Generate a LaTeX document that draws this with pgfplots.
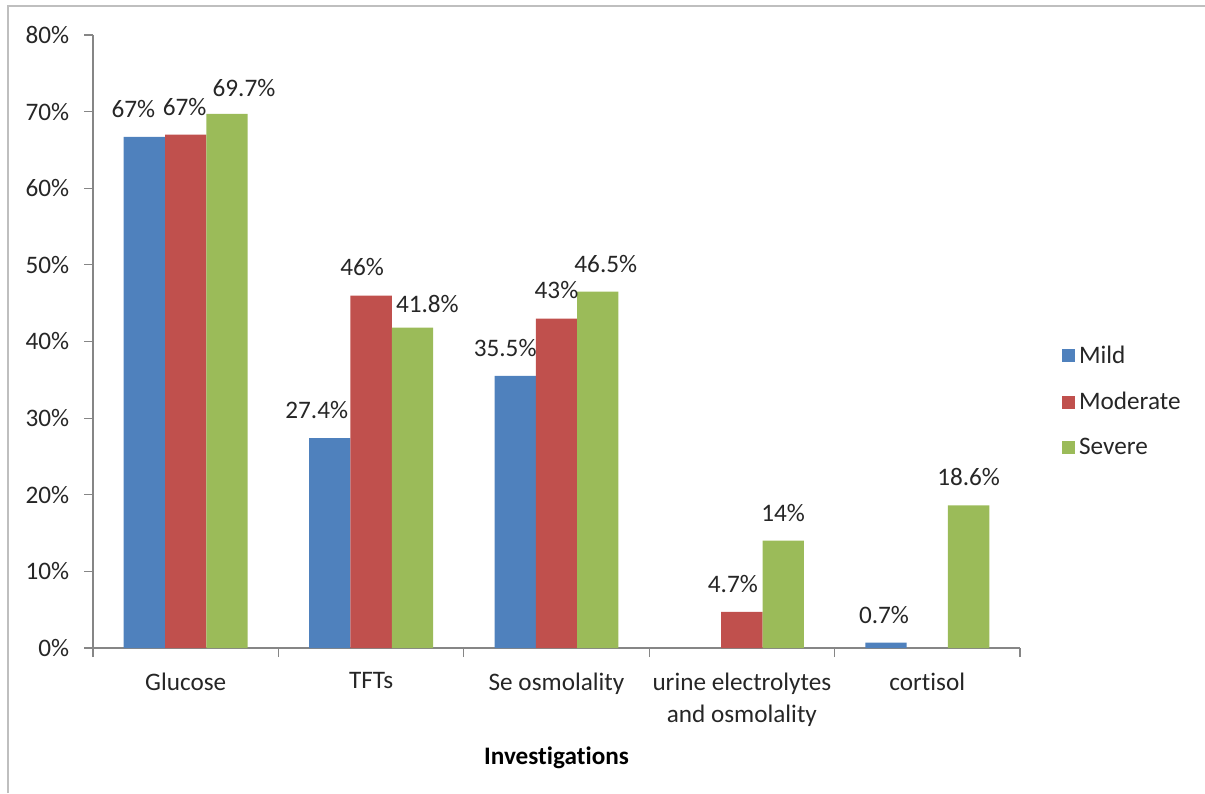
\documentclass[border=0pt]{standalone}
\usepackage{pgfplots}
\pgfplotsset{compat=1.18}
\usepackage{pgfplotstable}
\usepackage{fontspec}
\setmainfont{Carlito}[Ligatures=NoCommon]
\definecolor{mild}{HTML}{4F81BD}
\definecolor{moderate}{HTML}{C0504D}
\definecolor{severe}{HTML}{9BBB59}
\definecolor{axisgray}{HTML}{868686}
\newcommand{\fs}{\fontsize{12.6pt}{15pt}\selectfont}

\pgfplotstableread{
x y lab dx dy
0 66.7 67 -5.5 0
1 27.4 27.4 -6.5 0
2 35.5 35.5 -5 0
4 0.7 0.7 -1 0
}\mild
\pgfplotstableread{
x y lab dx dy
0 67.0 67 -0.5 0
1 46.0 46 -4.5 0
2 43.0 43 0 0
3 4.7 4.7 -4.5 0
}\moderate
\pgfplotstableread{
x y lab dx dy
0 69.7 69.7 8.5 -1
1 41.8 41.8 7.5 -2
2 46.5 46.5 4 0
3 14.0 14 0 0
4 18.6 18.6 0 0
}\severe

\begin{document}
\begin{tikzpicture}
\fs
\begin{axis}[
  at={(46.5pt,72.5pt)}, anchor=south west,
  scale only axis, width=463.5pt, height=306.5pt,
  ybar=0pt, bar width=0.2228,
  xmin=-0.5, xmax=4.5, ymin=0, ymax=80,
  axis x line*=bottom, axis y line*=left,
  axis line style={axisgray, line width=0.6pt},
  every tick/.style={axisgray, line width=0.6pt},
  tick align=outside, major tick length=4.5pt,
  xtick={-0.5,0.5,...,4.5},
  x tick label as interval,
  xticklabels={Glucose, TFTs, Se osmolality, {urine electrolytes\\and osmolality}, cortisol},
  xticklabel style={align=center, font=\fontsize{12.6pt}{16pt}\selectfont, yshift=-3.5pt, text=black!85},
  ytick={0,10,...,80},
  yticklabel={\pgfmathprintnumber{\tick}\%},
  yticklabel style={font=\fs, xshift=-3pt, text=black!85},
  /pgf/number format/assume math mode=true,
  xlabel={\textbf{Investigations}},
  xlabel style={font=\fs, yshift=-1.5pt},
  legend style={at={(1.045,0.401)}, anchor=west, draw=none, fill=none,
    font=\fs, row sep=8.5pt, inner sep=0pt, text=black!85,
    /tikz/every even column/.append style={column sep=0pt}},
  legend cell align=left,
  legend image code/.code={\fill[#1] (0pt,-3pt) rectangle (6.5pt,3.5pt);},
  visualization depends on={\thisrow{dx} \as \dx},
  visualization depends on={\thisrow{dy} \as \dy},
  point meta=explicit symbolic,
  nodes near coords={\pgfplotspointmeta\%},
  nodes near coords style={font=\fs, text=black!85, anchor=south, inner sep=0pt, yshift={\dy*1pt+9.5pt}, xshift={\dx*1pt}},
]
\addplot[fill=mild, draw=none] table[x=x, y=y, meta=lab]{\mild};
\addplot[fill=moderate, draw=none] table[x=x, y=y, meta=lab]{\moderate};
\addplot[fill=severe, draw=none] table[x=x, y=y, meta=lab]{\severe};
\legend{Mild, Moderate, Severe}
\end{axis}
\draw[gray!50, line width=1pt] (4pt,0pt) -- (4pt,393.5pt) -- (602.5pt,393.5pt);
\pgfresetboundingbox
\path (0,0) rectangle (602.5pt,396.5pt);
\end{tikzpicture}
\end{document}
